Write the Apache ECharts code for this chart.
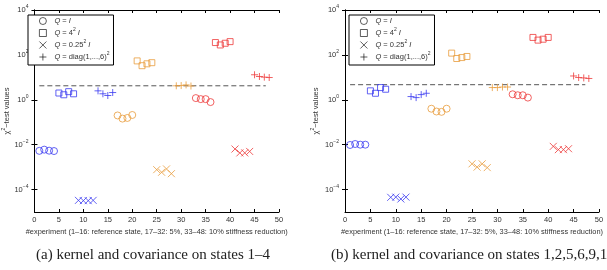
<!DOCTYPE html>
<html lang="en">
<head>
  <meta charset="UTF-8">
  <title>chi2 test values</title>
  <script src="https://cdn.jsdelivr.net/npm/echarts@6/dist/echarts.min.js"></script>
</head>
<body style="margin:0">
  <div id="main" style="width: 607px;height:270px;background:#fff;"></div>
</body>
</html>
<script>
  // state groups: 1-16 reference, 17-32 5%, 33-48 10%
  const stateColors = ["#3b3bf0", "#e89c3c", "#ee3b3b"];
  const qNames = ["I", "4", "0.25", "diag"];
  const qSymbols = [
    "circle",
    "rect",
    "path://M0,0L10,10M0,10L10,0",
    "path://M5,0L5,10M0,5L10,5"
  ];
  const yTicks = [1e-4, 1e-2, 1, 1e2, 1e4];

  // (a) kernel and covariance on states 1-4
  const qI_a = [5.3e-3, 6e-3, 5.4e-3, 5.2e-3, 0.20, 0.145, 0.155, 0.21, 1.19, 1.07, 1.07, 0.79];
  const q4_a = [2.0, 1.67, 2.3, 1.85, 54, 33, 40, 45, 355, 277, 330, 390];
  const q025_a = [3.3e-5, 3.2e-5, 3.2e-5, 3.3e-5, 7.7e-4, 5.9e-4, 8.3e-4, 5.1e-4, 6.4e-3, 4.3e-3, 4.3e-3, 5e-3];
  const qDiag_a = [2.5, 1.85, 1.55, 2.1, 4.2, 4.3, 4.6, 4.1, 13, 10.9, 10.2, 9.8];
  const threshold_a = 4.2;

  // (b) kernel and covariance on states 1,2,5,6,9,10
  const qI_b = [0.97e-2, 1.07e-2, 1e-2, 1e-2, 0.4, 0.3, 0.29, 0.4, 1.76, 1.59, 1.59, 1.25];
  const q4_b = [2.5, 1.95, 3.5, 2.95, 120, 69, 76, 85, 600, 455, 500, 600];
  const q025_b = [4.5e-5, 4.6e-5, 3.8e-5, 4.6e-5, 1.4e-3, 1e-3, 1.4e-3, 9.5e-4, 8.4e-3, 6e-3, 6e-3, 6.6e-3];
  const qDiag_b = [1.39, 1.25, 1.7, 1.95, 3.5, 3.5, 3.7, 3.7, 11.5, 9.8, 9.4, 8.9];
  const threshold_b = 4.7;

  const thresholdX = [1, 47.3];

  const font = "Liberation Sans";
  const textColor = "#333";

  function buildPoints(values, qIndex) {
    // experiment number = state*16 + q*4 + j + 1
    return values.map((v, i) => {
      let s = Math.floor(i / 4), j = i % 4;
      return {
        value: [s * 16 + qIndex * 4 + j + 1, v],
        itemStyle: { borderColor: stateColors[s] }
      };
    });
  }

  function yLabel(v) {
    let e = Math.round(Math.log10(v));
    return "10{s|" + (e < 0 ? "\u2212" + (-e) : e) + "}";
  }

  const richY = {
    s: { fontSize: 5, padding: [0, 0, 6, 0], fontFamily: font, color: textColor }
  };

  function axesFor(gridIndex) {
    let x = [{
      type: "value", gridIndex: gridIndex, min: 0, max: 50, interval: 5,
      name: "#experiment (1\u201316: reference state, 17\u201332: 5%, 33\u201348: 10% stiffness reduction)",
      nameLocation: "middle", nameGap: 14,
      nameTextStyle: { fontFamily: font, fontSize: 7.4, color: textColor },
      axisLine: { lineStyle: { color: "#000", width: 1 } },
      axisTick: { inside: true, length: 3, lineStyle: { color: "#000" } },
      axisLabel: { fontFamily: font, fontSize: 7.5, color: textColor, margin: 4 },
      splitLine: { show: false }
    }, {
      type: "value", gridIndex: gridIndex, position: "top", min: 0, max: 50, interval: 5,
      axisLine: { lineStyle: { color: "#000", width: 1 } },
      axisTick: { inside: true, length: 3, lineStyle: { color: "#000" } },
      axisLabel: { show: false },
      splitLine: { show: false }
    }];
    let y = [{
      type: "log", gridIndex: gridIndex, min: 1e-5, max: 1e4, logBase: 10,
      name: "{c|\u03c7}{s|2}{c|\u2212test values}",
      nameLocation: "middle", nameGap: gridIndex === 0 ? 21 : 24,
      nameTextStyle: {
        rich: {
          c: { fontFamily: font, fontSize: 7.5, color: textColor },
          s: { fontFamily: font, fontSize: 5, color: textColor, padding: [0, 0, 6, 0] }
        }
      },
      axisLine: { show: true, lineStyle: { color: "#000", width: 1 } },
      axisTick: { inside: true, length: 3, customValues: yTicks, lineStyle: { color: "#000" } },
      axisLabel: {
        customValues: yTicks, formatter: yLabel, margin: 6,
        fontFamily: font, fontSize: 7.5, color: textColor, rich: richY
      },
      splitLine: { show: false }
    }, {
      type: "log", gridIndex: gridIndex, position: "right", min: 1e-5, max: 1e4, logBase: 10,
      axisLine: { show: true, lineStyle: { color: "#000", width: 1 } },
      axisTick: { inside: true, length: 3, customValues: yTicks, lineStyle: { color: "#000" } },
      axisLabel: { show: false },
      splitLine: { show: false }
    }];
    return { x, y };
  }

  function seriesFor(plotData, threshold, gridIndex) {
    let list = [];
    plotData.forEach((vals, q) => {
      list.push({
        name: qNames[q],
        type: "scatter",
        xAxisIndex: gridIndex * 2,
        yAxisIndex: gridIndex * 2,
        symbol: qSymbols[q],
        symbolSize: q === 1 ? 6 : 7,
        itemStyle: { color: "rgba(0,0,0,0)", borderColor: "#000", borderWidth: 1 },
        emphasis: { disabled: true },
        data: buildPoints(vals, q),
        z: 3
      });
    });
    list.push({
      type: "line",
      xAxisIndex: gridIndex * 2,
      yAxisIndex: gridIndex * 2,
      symbol: "none",
      silent: true,
      lineStyle: { color: "#555", width: 1, type: [5, 3] },
      data: thresholdX.map(x => [x, threshold]),
      z: 2
    });
    return list;
  }

  function legendFor(left) {
    return {
      data: qNames,
      orient: "vertical",
      left: left, top: 15,
      backgroundColor: "#fff",
      borderColor: "#000",
      borderWidth: 1,
      padding: [2, 4, 4, 11],
      itemGap: 2.5,
      itemWidth: 7, itemHeight: 7,
      itemStyle: { borderWidth: 0.8 },
      selectedMode: false,
      formatter: function (n) {
        if (n === "I") return "{i|Q} = {i|I}";
        if (n === "4") return "{i|Q} = 4{s|2} {i|I}";
        if (n === "0.25") return "{i|Q} = 0.25{s|2} {i|I}";
        return "{i|Q} = diag(1,...,6){s|2}";
      },
      textStyle: {
        fontFamily: font, fontSize: 7.5, color: textColor, padding: [0, 0, 0, 3],
        rich: {
          i: { fontFamily: font, fontSize: 7.5, fontStyle: "italic", color: textColor },
          s: { fontFamily: font, fontSize: 5, color: textColor, padding: [0, 0, 6, 0] }
        }
      }
    };
  }

  let a = axesFor(0), b = axesFor(1);

  let myChart = echarts.init(document.getElementById("main"));
  let option = {
    animation: false,
    grid: [
      { left: 24, right: 328, top: 10, bottom: 58 },
      { left: 345, right: 8, top: 10, bottom: 58 }
    ],
    xAxis: a.x.concat(b.x),
    yAxis: a.y.concat(b.y),
    legend: [legendFor(28), legendFor(349)],
    title: [{
      text: "(a) kernel and covariance on states 1\u20134",
      left: 31, top: 243,
      textStyle: { fontFamily: "Liberation Serif", fontSize: 15, fontWeight: "normal", color: "#222" }
    }, {
      text: "(b) kernel and covariance on states 1,2,5,6,9,10",
      left: 326, top: 243,
      textStyle: { fontFamily: "Liberation Serif", fontSize: 15, fontWeight: "normal", color: "#222" }
    }],
    series: seriesFor([qI_a, q4_a, q025_a, qDiag_a], threshold_a, 0)
      .concat(seriesFor([qI_b, q4_b, q025_b, qDiag_b], threshold_b, 1))
  };
  myChart.setOption(option, true);
</script>
